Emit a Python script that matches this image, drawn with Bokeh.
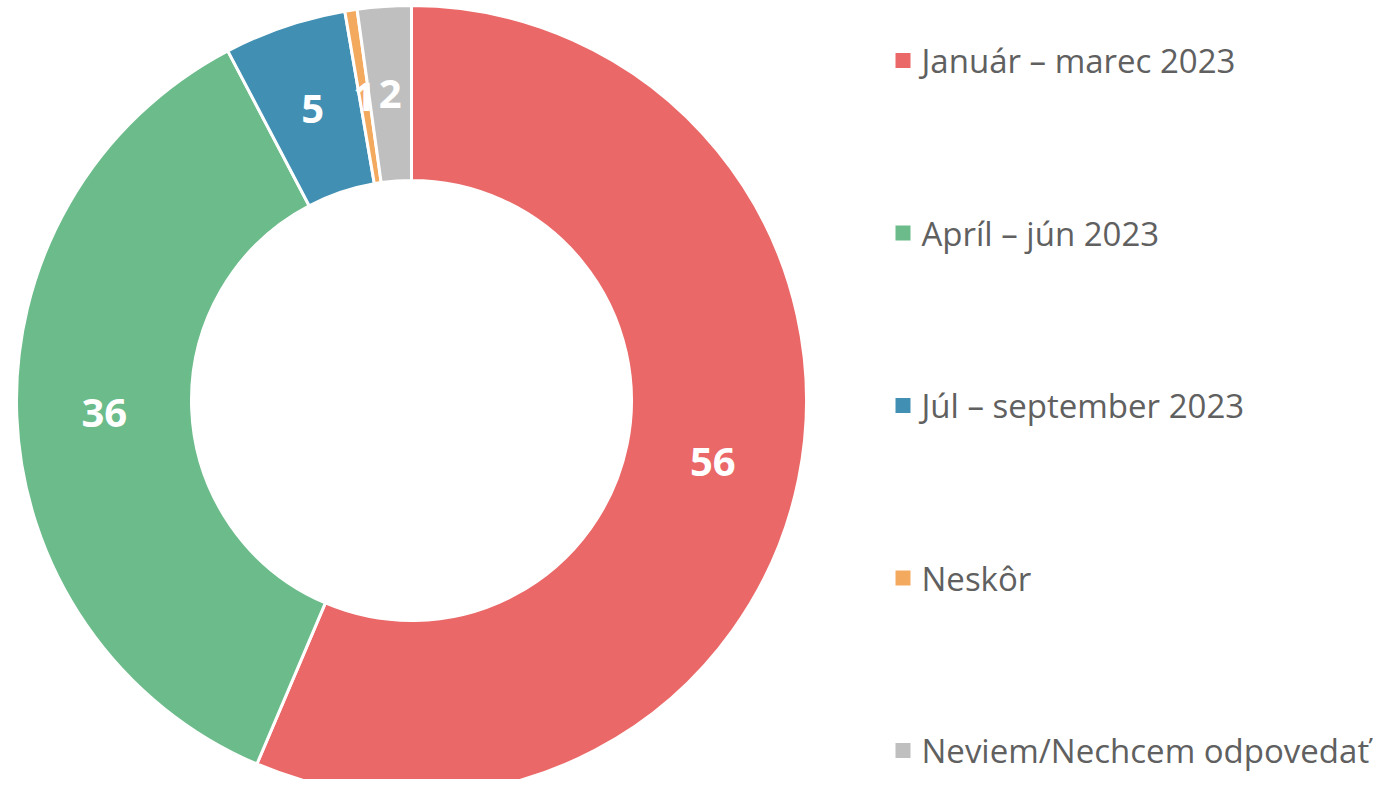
import math
from bokeh.plotting import figure
from bokeh.models import Range1d, ColumnDataSource
from bokeh.core.properties import value
from bokeh.embed import file_html
from bokeh.resources import INLINE

categories = ["Január – marec 2023", "Apríl – jún 2023", "Júl – september 2023", "Neskôr", "Neviem/Nechcem odpovedať"]
values = [56.4, 35.9, 5.0, 0.5, 2.2]
value_labels = ["56", "36", "5", "1", "2"]
colors = ["#EA6867", "#6CBB8A", "#4190B3", "#F4AA5E", "#BFBFBF"]

W, H = 1380, 779
TOP = 795  # screen-to-data flip helper

p = figure(width=W, height=H, output_backend="svg", toolbar_location=None,
           x_range=Range1d(0, W), y_range=Range1d(TOP - H, TOP),
           min_border=0, outline_line_color=None)
p.axis.visible = False
p.grid.visible = False
p.background_fill_color = "white"
p.border_fill_color = "white"

cx, cy = 411, TOP - 400
r_out, r_in = 395, 220
total = sum(values)
starts, ends, lx, ly = [], [], [], []
cum = 0.0
for v in values:
    a0 = math.pi / 2 - 2 * math.pi * cum / total
    cum += v
    a1 = math.pi / 2 - 2 * math.pi * cum / total
    starts.append(a0)
    ends.append(a1)
    mid = (a0 + a1) / 2
    rm = (r_out + r_in) / 2
    lx.append(cx + rm * math.cos(mid))
    ly.append(cy + rm * math.sin(mid))

src = ColumnDataSource(dict(start=starts, end=ends, color=colors, cat=categories))
p.annular_wedge(x=cx, y=cy, inner_radius=r_in, outer_radius=r_out,
                start_angle="start", end_angle="end", direction="clock",
                fill_color="color", line_color="white", line_width=3, source=src)

lsrc = ColumnDataSource(dict(x=lx, y=ly, t=value_labels))
p.text(x="x", y="y", text="t", source=lsrc, text_color="white",
       text_font=value("Open Sans"), text_font_style="bold", text_font_size="40px",
       text_align="center", text_baseline="middle")

# legend
leg_y = [TOP - (60 + 172.5 * i) for i in range(len(categories))]
leg_src = ColumnDataSource(dict(x=[902.5] * len(categories), tx=[921] * len(categories),
                                y=leg_y, color=colors, cat=categories))
p.rect(x="x", y="y", width=15, height=15, fill_color="color", line_color=None, source=leg_src)
p.text(x="tx", y="y", text="cat", source=leg_src, text_color="#606060",
       text_font=value("Open Sans"), text_font_size="33px",
       text_align="left", text_baseline="middle")

open("out.html", "w").write(file_html(p, INLINE))
